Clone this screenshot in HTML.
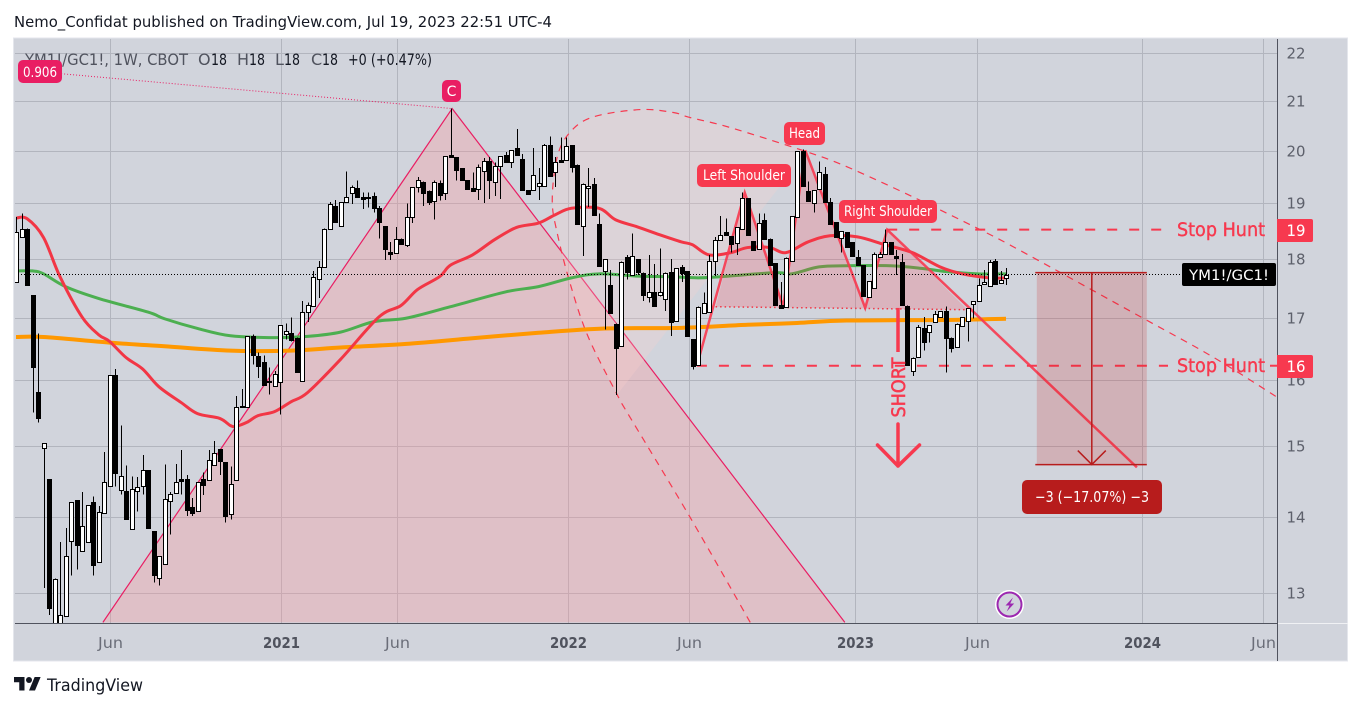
<!DOCTYPE html>
<html lang="en">
<head>
<meta charset="utf-8">
<title>YM1!/GC1! weekly chart</title>
<style>
html,body{margin:0;padding:0;background:#fff;width:1362px;height:709px;overflow:hidden}
svg{display:block}
text{font-family:"DejaVu Sans","Liberation Sans",sans-serif}
</style>
</head>
<body>
<svg id="root" xmlns="http://www.w3.org/2000/svg" width="1362" height="709" viewBox="0 0 1362 709">
  <defs><clipPath id="pane-clip"><rect x="15" y="39" width="1262" height="584"/></clipPath></defs>
  <text x="14" y="27" font-size="15" fill="#131722" textLength="538" lengthAdjust="spacingAndGlyphs">Nemo_Confidat published on TradingView.com, Jul 19, 2023 22:51 UTC-4</text>
  <rect x="13.5" y="38" width="1334" height="623" fill="#d1d4dc" stroke="#e4e6ec"/>
  <g id="grid"></g>
  <g clip-path="url(#pane-clip)">
    <g id="under"></g>
    <g id="mas"></g>
    <g id="drawings"></g>
    <g id="candles"></g>
    <g id="overlay"></g>
  </g>
  <line x1="15" y1="623.5" x2="1277" y2="623.5" stroke="#50535e"/>
  <line x1="1278" y1="623.5" x2="1348" y2="623.5" stroke="#f0f1f4"/>
  <line x1="1277.5" y1="39" x2="1277.5" y2="661" stroke="#50535e"/>
  <g id="axes"></g>

  <g font-size="16">
    <text x="25" y="65" fill="#50535e" textLength="163" lengthAdjust="spacingAndGlyphs">YM1!/GC1!, 1W, CBOT</text>
    <text x="198" y="65" fill="#50535e">O</text>
    <text x="211" y="65" fill="#131722" textLength="16" lengthAdjust="spacingAndGlyphs">18</text>
    <text x="237" y="65" fill="#50535e">H</text>
    <text x="249" y="65" fill="#131722" textLength="16" lengthAdjust="spacingAndGlyphs">18</text>
    <text x="275" y="65" fill="#50535e">L</text>
    <text x="284" y="65" fill="#131722" textLength="16" lengthAdjust="spacingAndGlyphs">18</text>
    <text x="311" y="65" fill="#50535e">C</text>
    <text x="322" y="65" fill="#131722" textLength="16" lengthAdjust="spacingAndGlyphs">18</text>
    <text x="348" y="65" fill="#131722" textLength="84" lengthAdjust="spacingAndGlyphs">+0 (+0.47%)</text>
  </g>

  <g>
    <rect x="18" y="60" width="44" height="23" rx="5" fill="#e91e63"/>
    <text x="23" y="77" font-size="14.5" fill="#fff" textLength="34" lengthAdjust="spacingAndGlyphs">0.906</text>
  </g>
  <g>
    <rect x="442" y="80" width="19" height="22" rx="5" fill="#e91e63"/>
    <text x="451.5" y="96" font-size="14" fill="#fff" text-anchor="middle">C</text>
  </g>
  <g>
    <rect x="697" y="164" width="94" height="23" rx="5" fill="#f7394f"/>
    <text x="703" y="180" font-size="14.5" fill="#fff" textLength="82" lengthAdjust="spacingAndGlyphs">Left Shoulder</text>
  </g>
  <g>
    <rect x="784" y="122" width="41" height="23" rx="5" fill="#f7394f"/>
    <text x="789" y="138" font-size="14.5" fill="#fff" textLength="31" lengthAdjust="spacingAndGlyphs">Head</text>
  </g>
  <g>
    <rect x="839" y="200" width="98" height="23" rx="5" fill="#f7394f"/>
    <text x="844" y="216" font-size="14.5" fill="#fff" textLength="88" lengthAdjust="spacingAndGlyphs">Right Shoulder</text>
  </g>

  <text x="1177" y="236" font-size="19" fill="#f7394f" stroke="#f7394f" stroke-width=".4" textLength="88" lengthAdjust="spacingAndGlyphs">Stop Hunt</text>
  <text x="1177" y="372" font-size="19" fill="#f7394f" stroke="#f7394f" stroke-width=".4" textLength="88" lengthAdjust="spacingAndGlyphs">Stop Hunt</text>
  <text transform="translate(905,417.5) rotate(-90)" font-size="19" fill="#f7394f" stroke="#f7394f" stroke-width=".5" textLength="60" lengthAdjust="spacingAndGlyphs">SHORT</text>

  <g>
    <path d="M1277 219h34a2 2 0 0 1 2 2v19a2 2 0 0 1-2 2h-34z" fill="#f7394f"/>
    <text x="1296" y="236" font-size="16" fill="#fff" text-anchor="middle" textLength="19" lengthAdjust="spacingAndGlyphs">19</text>
  </g>
  <g>
    <path d="M1277 355h34a2 2 0 0 1 2 2v19a2 2 0 0 1-2 2h-34z" fill="#f7394f"/>
    <text x="1296" y="372" font-size="16" fill="#fff" text-anchor="middle" textLength="19" lengthAdjust="spacingAndGlyphs">16</text>
  </g>
  <g>
    <rect x="1182" y="263" width="94" height="23" rx="2" fill="#000"/>
    <text x="1189" y="280" font-size="14.5" fill="#fff" textLength="80" lengthAdjust="spacingAndGlyphs">YM1!/GC1!</text>
  </g>
  <g>
    <rect x="1022" y="480" width="140" height="34" rx="5" fill="#b71c1c"/>
    <text x="1035" y="502" font-size="15" fill="#fff" textLength="114" lengthAdjust="spacingAndGlyphs">−3 (−17.07%) −3</text>
  </g>

  <g>
    <circle cx="1009.5" cy="604.5" r="14.5" fill="#fff"/>
    <circle cx="1009.5" cy="604.5" r="12" fill="#d1d4dc" stroke="#9c27b0" stroke-width="2"/>
    <path d="M1013 597.5l-7.5 8h4l-2.8 6 7.5-8h-4z" fill="#9c27b0"/>
  </g>

  <g>
    <path transform="translate(14,674) scale(.75)" fill="#131722" d="M14 22H7V11H0V4h14v18zM28 22h-8l7.5-18h8L28 22z"/>
    <circle cx="29" cy="680" r="3" fill="#131722"/>
    <text x="47" y="691" font-size="16.5" fill="#131722" textLength="96" lengthAdjust="spacingAndGlyphs">TradingView</text>
  </g>
</svg>
<script>
// ---- price tick labels and time axis ----
const priceTicks = [22, 21, 20, 19, 18, 17, 16, 15, 14, 13];
const timeTickLabels = ["Jun", "2021", "Jun", "2022", "Jun", "2023", "Jun", "2024", "Jun"];
const timeTickWeeks = [17, 48.2, 69.2, 100.4, 122.4, 152.6, 174.7, 204.8, 226.7];
const lastPrice = 17.74;

// ---- OHLC, one entry per weekly candle ----
const opens = [17.60,18.39,18.54,17.37,15.81,14.97,14.52,12.42,12.42,12.70,13.67,14.23,13.54,13.66,14.20,13.40,14.05,14.42,16.07,14.36,14.36,13.84,14.35,14.42,14.65,13.81,13.19,13.38,14.21,14.33,14.52,14.52,14.13,14.07,14.52,14.51,14.72,14.95,14.76,14.04,14.51,15.60,15.57,16.70,16.38,16.28,15.98,15.90,15.97,16.73,16.75,16.67,15.98,17.09,17.20,17.66,17.86,18.54,18.95,18.59,19.03,19.20,19.29,19.12,19.12,19.14,18.92,18.59,18.12,18.11,18.36,18.25,18.75,19.31,19.41,19.24,19.06,19.39,19.20,19.92,19.88,19.67,19.44,19.29,19.27,19.60,19.80,19.41,19.71,19.92,19.77,20.05,19.84,19.25,19.25,19.33,19.33,20.11,19.60,19.82,19.82,20.11,19.73,18.59,19.29,19.37,18.63,17.79,17.54,16.90,16.54,18.03,17.72,18.00,17.76,17.35,17.42,17.38,17.32,17.77,16.95,17.86,17.79,16.65,16.24,17.09,17.09,17.96,18.34,18.47,18.41,18.29,18.54,19.10,18.32,18.18,18.70,18.36,17.93,17.21,17.18,17.96,18.75,20.00,19.24,19.00,19.27,19.56,19.03,18.66,18.38,18.48,18.29,18.03,17.89,17.35,17.50,18.03,18.07,18.29,18.05,17.95,17.20,16.14,16.37,16.82,16.77,16.93,17.01,17.11,16.67,16.53,16.86,16.95,17.23,17.28,17.57,17.54,17.96,17.59,17.67];
const highs = [18.75,18.81,18.54,17.37,16.74,15.04,14.52,13.18,13.66,13.85,14.20,14.23,14.34,14.16,14.28,14.15,14.91,16.07,16.17,15.30,14.72,14.56,14.55,14.87,14.65,13.81,13.47,14.73,14.34,14.74,14.94,14.58,14.26,14.48,14.62,14.94,15.07,14.95,14.76,14.70,15.75,15.86,16.69,16.72,16.43,16.38,16.19,16.14,16.88,16.90,17.00,16.67,17.28,17.25,17.79,17.96,18.54,19.03,19.06,19.03,19.60,19.33,19.43,19.20,19.20,19.20,18.95,18.59,18.30,18.57,18.36,19.00,19.31,19.50,19.41,19.24,19.43,19.43,19.90,20.84,19.88,19.67,19.44,19.58,19.73,19.86,19.88,19.77,19.90,19.98,20.01,20.43,19.94,19.25,20.05,19.67,20.13,20.28,19.88,20.26,20.26,20.11,19.73,19.37,19.67,19.48,18.81,18.00,17.81,16.90,17.95,18.07,18.45,18.00,17.76,18.07,17.91,18.18,17.76,18.00,17.84,17.89,17.79,16.65,17.18,17.42,18.07,18.39,18.77,18.72,18.41,18.57,19.20,19.10,18.32,18.81,18.81,18.36,17.93,17.60,18.02,18.77,20.00,20.03,19.41,19.25,19.79,19.69,19.10,18.66,18.50,18.48,18.29,18.16,17.89,17.62,18.11,18.12,18.52,18.29,18.16,18.09,17.20,16.35,16.88,17.01,16.88,17.11,17.11,17.18,16.67,16.90,17.01,17.16,17.28,17.66,17.81,17.98,18.00,17.79,17.84];
const lows = [17.60,18.38,17.55,15.50,15.35,13.06,12.72,12.42,12.40,12.70,13.22,13.30,13.54,13.66,13.22,13.40,14.05,14.42,14.42,14.31,13.98,13.84,14.07,14.31,13.85,13.13,13.09,13.38,13.76,14.33,14.31,14.01,14.01,14.07,14.30,14.51,14.72,14.58,13.92,13.96,14.51,15.58,15.57,16.24,16.03,15.91,15.77,15.90,15.47,16.64,16.61,16.12,15.98,16.93,17.20,17.33,17.86,18.54,18.65,18.57,19.01,18.99,19.12,18.90,18.92,18.83,18.36,17.98,17.98,18.11,18.27,18.21,18.64,19.20,18.95,18.97,18.70,19.05,19.06,19.88,19.43,19.43,19.27,19.24,19.06,19.01,19.08,19.14,19.08,19.79,19.67,19.92,19.25,19.18,19.25,19.06,19.33,19.52,19.31,19.79,19.82,19.58,18.63,18.05,18.93,18.79,17.88,16.80,17.06,15.76,16.54,17.64,17.72,17.72,17.28,17.25,17.18,17.35,17.11,16.70,16.95,17.60,16.70,16.16,16.24,17.09,17.09,17.70,18.34,18.41,18.11,18.07,18.54,18.43,18.16,18.18,18.36,17.90,17.21,17.16,17.18,17.96,18.75,19.33,19.06,18.83,19.27,19.03,18.63,18.39,18.11,18.21,18.05,17.89,17.35,17.35,17.50,18.03,18.07,18.07,17.72,17.21,16.24,16.06,16.37,16.46,16.59,16.93,17.01,16.11,16.43,16.53,16.86,16.61,16.98,17.28,17.57,17.54,17.57,17.59,17.55];
const closes = [18.47,18.54,17.55,16.19,15.41,15.04,12.80,13.18,12.72,13.47,14.20,13.62,13.87,14.16,13.36,14.07,14.48,16.07,14.60,14.56,13.98,14.39,14.41,14.65,13.85,13.23,13.47,14.25,14.31,14.48,14.49,14.09,14.05,14.48,14.44,14.79,14.90,14.77,14.01,14.45,15.58,15.58,16.69,16.40,16.22,15.92,15.97,16.09,16.88,16.78,16.64,16.12,17.09,17.21,17.69,17.86,18.54,18.99,18.65,19.03,19.12,19.31,19.12,19.08,19.10,18.92,18.66,18.18,18.09,18.36,18.27,18.75,19.31,19.44,19.20,19.03,19.41,19.16,19.90,19.88,19.63,19.44,19.27,19.24,19.69,19.80,19.43,19.71,19.90,19.79,20.01,19.92,19.25,19.18,19.54,19.39,20.11,19.52,19.79,19.79,20.10,19.69,18.63,19.37,19.33,18.79,17.88,18.00,17.06,16.51,17.95,17.77,18.05,17.77,17.38,17.43,17.18,17.43,17.76,16.93,17.84,17.76,16.70,16.21,17.18,17.25,17.96,18.34,18.43,18.41,18.27,18.57,19.10,18.43,18.16,18.64,18.36,17.90,17.21,17.16,18.02,18.77,20.00,19.33,19.06,19.25,19.60,19.03,18.63,18.39,18.50,18.21,18.05,17.89,17.35,17.62,18.09,18.09,18.29,18.07,18.02,17.21,16.24,16.35,16.85,16.59,16.88,17.06,17.11,16.67,16.51,16.90,17.01,17.16,17.28,17.55,17.60,17.95,17.57,17.64,17.72];

const redWeeks = [0,2,5,8,12,15,17,20,23,26,30,33,37,39,40,42,44,47,50,53,59,66,70,73,77,79,83,87,91,95,98,101,106,109,113,117,121,123,126,130,133,137,140,144,148,153,158,163,168,172,177,180];
const redValues = [18.73,18.72,18.38,17.69,17.01,16.72,16.61,16.35,16.17,15.89,15.65,15.48,15.41,15.30,15.29,15.35,15.45,15.51,15.66,15.80,16.32,17.01,17.20,17.47,17.69,17.89,18.07,18.34,18.56,18.64,18.79,18.91,18.91,18.70,18.57,18.43,18.30,18.25,18.07,18.11,18.20,18.20,18.11,18.30,18.41,18.39,18.25,18.11,17.86,17.74,17.67,17.67];
const greenWeeks = [0,3,5,9,15,24,27,33,39,47,53,59,65,71,79,89,95,101,106,113,119,124,128,138,141,146,151,159,165,169,175,180];
const greenValues = [17.79,17.79,17.74,17.52,17.32,17.09,16.98,16.82,16.70,16.67,16.69,16.76,16.93,16.99,17.18,17.43,17.52,17.67,17.74,17.70,17.69,17.67,17.69,17.76,17.74,17.86,17.88,17.88,17.83,17.78,17.74,17.74];
const orangeWeeks = [0,5,17,27,39,50,59,71,83,95,107,121,133,142,151,169,180];
const orangeValues = [16.68,16.68,16.59,16.53,16.46,16.46,16.51,16.57,16.66,16.75,16.82,16.83,16.88,16.91,16.95,16.96,16.98];

// ---- drawing anchors (week, price) ----
const abcWeeks = [15.8, 79.3, 150.7];
const abcPrices = [12.63, 20.84, 12.63];
const fibWeeks = [4.4, 79.3];
const fibPrices = [21.6, 20.84];
const curveWeeks = [133.5,122.5,111.1,109.3,104,100.7,98.4,97.5,98.4,100.7,104.9,113.5,119.5,122.5,129.8,143.8,151.1,163.1,175.3,183.1,204.9,217.6,229.3];
const curvePrices = [12.63,14.0,15.5,15.77,16.69,17.59,18.46,19.06,19.88,20.36,20.67,20.82,20.76,20.66,20.46,19.98,19.69,19.12,18.52,18.12,16.99,16.36,15.73];
const hsWeeks = [123.8,132.5,139.5,143.5,154.4,158.4,203.8];
const hsPrices = [16.22,19.20,17.18,20.01,17.16,18.52,14.69];
const neckWeeks = [127.2,173];
const neckPrices = [17.18,17.13];
const stopUpperPrice = 18.52;
const stopLowerPrice = 16.22;
const positionWeeks = [185.6, 205.6];
const positionPrices = [17.76, 14.73];

// ---- axis functions ----
function xAxis(w) { return 16 + 5.5 * w; }
function yAxis(p) { return 53 + 1026 * Math.log(22 / p); }

const NS = 'http://www.w3.org/2000/svg';
function make(parent, tag, attrs) {
  const el = document.createElementNS(NS, tag);
  for (const k in attrs) el.setAttribute(k, attrs[k]);
  parent.appendChild(el);
  return el;
}
function smooth(pts) {
  let d = 'M' + pts[0][0] + ' ' + pts[0][1];
  for (let i = 0; i < pts.length - 1; i++) {
    const a = pts[Math.max(i - 1, 0)], b = pts[i], c = pts[i + 1], e = pts[Math.min(i + 2, pts.length - 1)];
    d += 'C' + (b[0] + (c[0] - a[0]) / 6) + ' ' + (b[1] + (c[1] - a[1]) / 6) + ' ' +
         (c[0] - (e[0] - b[0]) / 6) + ' ' + (c[1] - (e[1] - b[1]) / 6) + ' ' + c[0] + ' ' + c[1];
  }
  return d;
}
function pairs(ws, ps) { return ws.map(function (w, i) { return [xAxis(w), yAxis(ps[i])]; }); }

const grid = document.getElementById('grid');
const axes = document.getElementById('axes');
const under = document.getElementById('under');
const mas = document.getElementById('mas');
const drawings = document.getElementById('drawings');
const candles = document.getElementById('candles');
const overlay = document.getElementById('overlay');

// grid and axis labels
priceTicks.forEach(function (p) {
  const y = Math.round(yAxis(p)) + 0.5;
  const line = make(grid, 'line', { x1: 15, x2: 1277, y1: y, y2: y, stroke: '#b2b5be' });
  
  
  const t = make(axes, 'text', { x: 1296, y: y + 5, 'font-size': 15, fill: '#5d606b', 'text-anchor': 'middle', textLength: 19, lengthAdjust: 'spacingAndGlyphs' });
  t.textContent = String(p);
  
  
});
timeTickLabels.forEach(function (label, i) {
  const x = Math.round(xAxis(timeTickWeeks[i])) + 0.5;
  const line = make(grid, 'line', { x1: x, x2: x, y1: 39, y2: 623, stroke: '#b2b5be' });
  
  
  const isYear = label.length > 3;
  const t = make(axes, 'text', { x: x, y: 648, 'font-size': 15, 'text-anchor': 'middle', fill: isYear ? '#50535e' : '#6a6d78', 'font-weight': isYear ? 'bold' : 'normal', textLength: isYear ? 37 : 25, lengthAdjust: 'spacingAndGlyphs' });
  t.textContent = label;
  
  
});

// moving averages
const orangeLine = make(mas, 'path', { d: smooth(pairs(orangeWeeks, orangeValues)), fill: 'none', stroke: '#ff9800', 'stroke-width': 4 });


const greenLine = make(mas, 'path', { d: smooth(pairs(greenWeeks, greenValues)), fill: 'none', stroke: '#4caf50', 'stroke-width': 3 });


const redLine = make(mas, 'path', { d: smooth(pairs(redWeeks, redValues)), fill: 'none', stroke: '#f23645', 'stroke-width': 3 });



// ABC triangle
const abc = pairs(abcWeeks, abcPrices);
const abcFill = make(under, 'polygon', { points: abc.join(' '), fill: 'rgba(255,145,153,.3)' });


const abcLine = make(under, 'polyline', { points: abc.join(' '), fill: 'none', stroke: '#e91e63', 'stroke-width': 1.2 });


const fib = pairs(fibWeeks, fibPrices);
const fibLine = make(under, 'line', { x1: fib[0][0], y1: fib[0][1], x2: fib[1][0], y2: fib[1][1], stroke: '#e91e63', 'stroke-width': 1, 'stroke-dasharray': '1 2' });



// dashed curve and its chord fill
const curvePts = pairs(curveWeeks, curvePrices);
const curveFill = make(under, 'path', { d: smooth(curvePts.slice(3, 16)) + 'Z', fill: 'rgba(255,208,205,.25)' });


const curveLine = make(under, 'path', { d: smooth(curvePts), fill: 'none', stroke: '#f7394f', 'stroke-width': 1.2, 'stroke-dasharray': '7 6' });



// head and shoulders
const neck = pairs(neckWeeks, neckPrices);
const hs = pairs(hsWeeks, hsPrices);
const endAtNeck = [xAxis(173), yAxis(17.13)];
const hsPoly = [neck[0], hs[1], hs[2], hs[3], hs[4], hs[5], endAtNeck];
const hsFill = make(drawings, 'polygon', { points: hsPoly.join(' '), fill: 'rgba(255,54,69,.2)' });


const neckLine = make(drawings, 'line', { x1: neck[0][0], y1: neck[0][1], x2: neck[1][0], y2: neck[1][1], stroke: '#f23645', 'stroke-width': 1.5, 'stroke-dasharray': '1.5 3' });


const hsLine = make(drawings, 'polyline', { points: hs.join(' '), fill: 'none', stroke: 'rgba(247,57,79,.9)', 'stroke-width': 2.5 });



// stop hunt lines
const yUp = yAxis(stopUpperPrice), yLow = yAxis(stopLowerPrice);
const stopUp = make(drawings, 'line', { x1: xAxis(hsWeeks[5]), x2: 1165, y1: yUp, y2: yUp, stroke: '#f7394f', 'stroke-width': 2, 'stroke-dasharray': '10 12' });


const stopLow = make(drawings, 'line', { x1: xAxis(hsWeeks[0]), x2: 1168, y1: yLow, y2: yLow, stroke: '#f7394f', 'stroke-width': 2, 'stroke-dasharray': '10 12' });


const stopLowEnd = make(drawings, 'line', { x1: 1270, x2: 1277, y1: yLow, y2: yLow, stroke: '#f7394f', 'stroke-width': 2 });



// price line
const yLast = Math.round(yAxis(lastPrice)) + 0.5;
const priceLine = make(drawings, 'line', { x1: 15, x2: 1182, y1: yLast, y2: yLast, stroke: '#000', 'stroke-width': 1, 'stroke-dasharray': '1 2' });



// candles
opens.forEach(function (o, i) {
  const x = Math.round(xAxis(i));
  const yO = yAxis(o), yC = yAxis(closes[i]), yH = yAxis(highs[i]), yL = yAxis(lows[i]);
  const up = closes[i] >= o;
  const g = make(candles, 'g', { 'shape-rendering': 'crispEdges' });
  
  
  const wick = make(g, 'line', { x1: x + 0.5, x2: x + 0.5, y1: yH, y2: yL, stroke: '#000' });
  
  
  const top = Math.round(Math.min(yO, yC)) + 0.5;
  const h = Math.max(1, Math.round(Math.abs(yO - yC)));
  const body = make(g, 'rect', { x: x - 1.5, y: top, width: 4, height: h, fill: up ? '#fff' : '#000', stroke: '#000' });
  
  
});

// short arrow
const xShort = 898;
const shortTop = make(overlay, 'line', { x1: xShort, x2: xShort, y1: yAxis(17.16), y2: 352, stroke: '#f7394f', 'stroke-width': 3.5 });


const shortArrow = make(overlay, 'path', { d: 'M898 424V466M877.5 445L898 466L919.5 445', fill: 'none', stroke: '#f7394f', 'stroke-width': 3.5, 'stroke-linecap': 'round', 'stroke-linejoin': 'round' });



// short position block
const px0 = xAxis(positionWeeks[0]), px1 = xAxis(positionWeeks[1]);
const pyTop = yAxis(positionPrices[0]), pyBot = yAxis(positionPrices[1]);
const pxMid = (px0 + px1) / 2;
const posRect = make(overlay, 'rect', { x: px0, y: pyTop, width: px1 - px0, height: pyBot - pyTop, fill: 'rgba(205,28,28,.19)' });


const posTop = make(overlay, 'line', { x1: px0 - 1.5, x2: px1, y1: pyTop, y2: pyTop, stroke: '#b71c1c', 'stroke-width': 1.5 });


const posBot = make(overlay, 'line', { x1: px0 - 1.5, x2: px1, y1: pyBot, y2: pyBot, stroke: '#b71c1c', 'stroke-width': 1.5 });


const posArrow = make(overlay, 'path', { d: 'M' + pxMid + ' ' + pyTop + 'V' + pyBot + 'M' + (pxMid - 14) + ' ' + (pyBot - 14) + 'L' + pxMid + ' ' + pyBot + 'L' + (pxMid + 14) + ' ' + (pyBot - 14), fill: 'none', stroke: '#b71c1c', 'stroke-width': 1.5 });


</script>
</body>
</html>
